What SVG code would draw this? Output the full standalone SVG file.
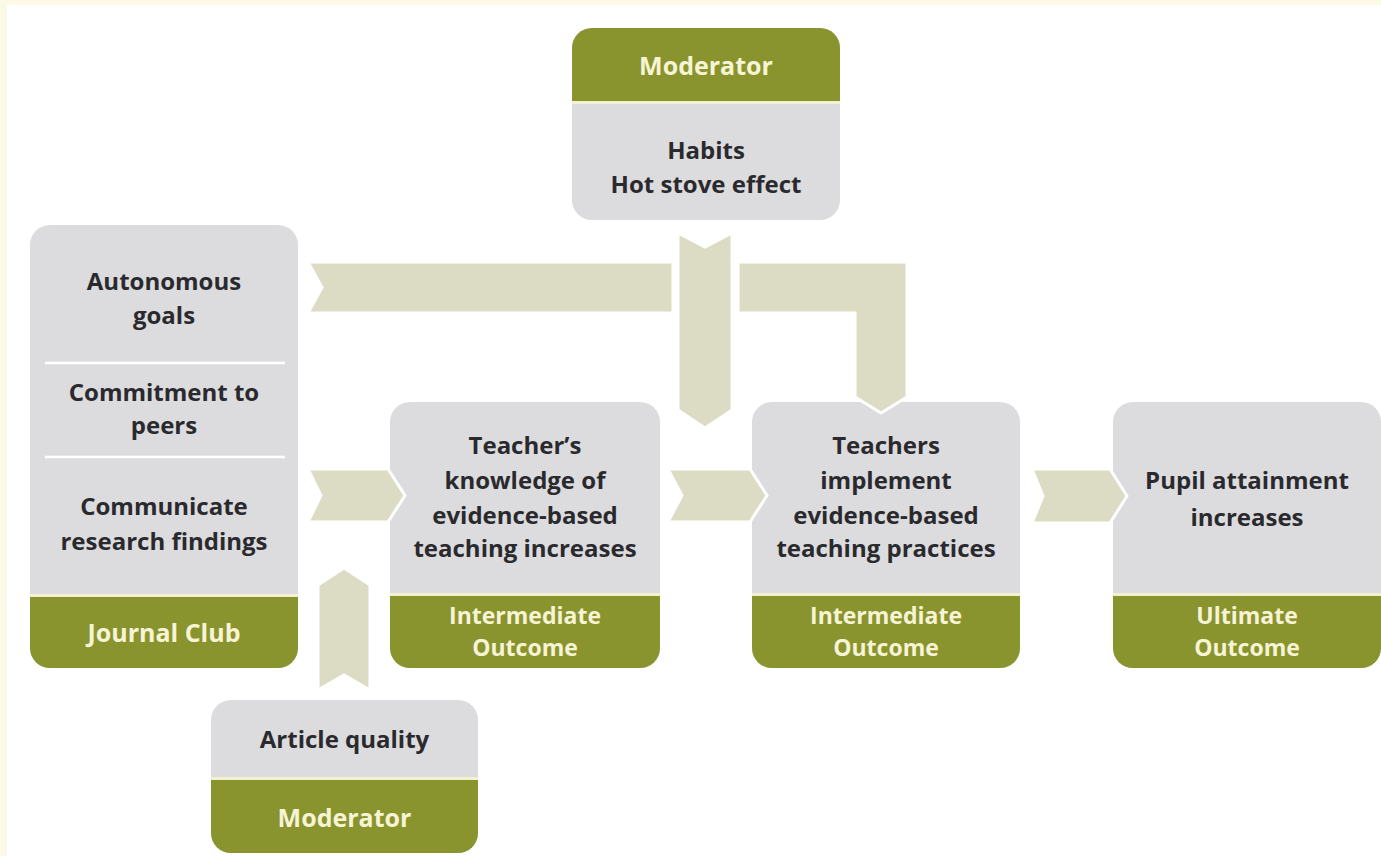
<svg xmlns="http://www.w3.org/2000/svg" width="1381" height="856" viewBox="0 0 1381 856">
  <style>
    .card { fill: #dcdcde; }
    .band { fill: #8a942f; }
    .seam { fill: #f3f1d2; }
    .rule { stroke: #ffffff; stroke-width: 2.5; }
    .body { font-family: "Open Sans", "Liberation Sans", sans-serif; font-weight: 700; font-size: 24px; fill: #2a2a2e; text-anchor: middle; }
    .tag { font-family: "Open Sans", "Liberation Sans", sans-serif; font-weight: 700; font-size: 25px; fill: #f7f4d6; text-anchor: middle; }
    .tag2 { font-family: "Open Sans", "Liberation Sans", sans-serif; font-weight: 700; font-size: 23px; fill: #f7f4d6; text-anchor: middle; }
    .flow { fill: #dcdcc5; stroke: #ffffff; stroke-width: 3; stroke-linejoin: miter; }
  </style>

  <!-- page with cream edge along top and left -->
  <rect x="0" y="0" width="1381" height="856" fill="#fcfae6"/>
  <rect x="7" y="5" width="1374" height="851" fill="#ffffff"/>

  <!-- Journal Club -->
  <g id="journal-club">
    <rect class="card" x="30" y="225" width="268" height="443" rx="20"/>
    <path class="band" d="M30,596 H298 V648 a20,20 0 0 1 -20,20 H50 a20,20 0 0 1 -20,-20 Z"/>
    <rect class="seam" x="30" y="594" width="268" height="3"/>
    <line class="rule" x1="45" y1="363" x2="285" y2="363"/>
    <line class="rule" x1="45" y1="457" x2="285" y2="457"/>
    <text class="body" x="164" y="290">Autonomous</text>
    <text class="body" x="164" y="324">goals</text>
    <text class="body" x="164" y="401">Commitment to</text>
    <text class="body" x="164" y="434">peers</text>
    <text class="body" x="164" y="515">Communicate</text>
    <text class="body" x="164" y="550">research findings</text>
    <text class="tag" x="164" y="642">Journal Club</text>
  </g>

  <!-- Moderator: habits -->
  <g id="moderator-habits">
    <rect class="card" x="572" y="28" width="268" height="192" rx="20"/>
    <path class="band" d="M572,102 V48 a20,20 0 0 1 20,-20 H820 a20,20 0 0 1 20,20 V102 Z"/>
    <rect class="seam" x="572" y="101" width="268" height="3"/>
    <text class="tag" x="706" y="75">Moderator</text>
    <text class="body" x="706" y="159">Habits</text>
    <text class="body" x="706" y="193">Hot stove effect</text>
  </g>

  <!-- Intermediate outcome: knowledge -->
  <g id="knowledge">
    <rect class="card" x="390" y="402" width="270" height="266" rx="20"/>
    <path class="band" d="M390,595 H660 V648 a20,20 0 0 1 -20,20 H410 a20,20 0 0 1 -20,-20 Z"/>
    <rect class="seam" x="390" y="593" width="270" height="3"/>
    <text class="body" x="525" y="454">Teacher’s</text>
    <text class="body" x="525" y="489">knowledge of</text>
    <text class="body" x="525" y="524">evidence-based</text>
    <text class="body" x="525" y="557">teaching increases</text>
    <text class="tag2" x="525" y="624">Intermediate<tspan x="525" dy="32">Outcome</tspan></text>
  </g>

  <!-- Intermediate outcome: practice -->
  <g id="practice">
    <rect class="card" x="752" y="402" width="268" height="266" rx="20"/>
    <path class="band" d="M752,595 H1020 V648 a20,20 0 0 1 -20,20 H772 a20,20 0 0 1 -20,-20 Z"/>
    <rect class="seam" x="752" y="593" width="268" height="3"/>
    <text class="body" x="886" y="454">Teachers</text>
    <text class="body" x="886" y="489">implement</text>
    <text class="body" x="886" y="524">evidence-based</text>
    <text class="body" x="886" y="557">teaching practices</text>
    <text class="tag2" x="886" y="624">Intermediate<tspan x="886" dy="32">Outcome</tspan></text>
  </g>

  <!-- Ultimate outcome -->
  <g id="attainment">
    <rect class="card" x="1113" y="402" width="268" height="266" rx="20"/>
    <path class="band" d="M1113,595 H1381 V648 a20,20 0 0 1 -20,20 H1133 a20,20 0 0 1 -20,-20 Z"/>
    <rect class="seam" x="1113" y="593" width="268" height="3"/>
    <text class="body" x="1247" y="489">Pupil attainment</text>
    <text class="body" x="1247" y="526">increases</text>
    <text class="tag2" x="1247" y="624">Ultimate<tspan x="1247" dy="32">Outcome</tspan></text>
  </g>

  <!-- Moderator: article quality -->
  <g id="moderator-article">
    <rect class="card" x="211" y="700" width="267" height="153" rx="20"/>
    <path class="band" d="M211,779 H478 V833 a20,20 0 0 1 -20,20 H231 a20,20 0 0 1 -20,-20 Z"/>
    <rect class="seam" x="211" y="777" width="267" height="3"/>
    <text class="body" x="344.5" y="748">Article quality</text>
    <text class="tag" x="344.5" y="827">Moderator</text>
  </g>

  <!-- chevron connectors -->
  <g id="connectors">
    <polygon class="flow" points="308,262 673,262 673,313 308,313 322,287.5"/>
    <polygon class="flow" points="738,262 907,262 907,397 881,413 855,397 855,313 738,313"/>
    <polygon class="flow" points="678,233 705,247 732,233 732,410 705,428 678,410"/>
    <polygon class="flow" points="308,469 388,469 405,495.5 388,522 308,522 321,495.5"/>
    <polygon class="flow" points="668,469 750,469 767,495.5 750,522 668,522 682,495.5"/>
    <polygon class="flow" points="1032,469 1110,469 1127,496 1110,523 1032,523 1043,496"/>
    <polygon class="flow" points="318,585 344,568 370,585 370,690 344,675 318,690"/>
  </g>
</svg>
